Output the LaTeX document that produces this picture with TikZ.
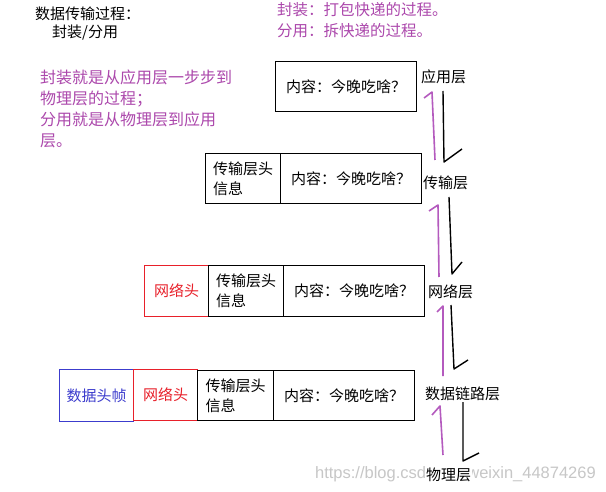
\documentclass[tikz,border=0pt]{standalone}
\usepackage{fontspec}
\setmainfont{Noto Sans CJK SC}
\newfontfamily\wmfont{Liberation Sans}
\definecolor{mypurple}{RGB}{172,72,172}
\definecolor{myline}{RGB}{180,90,190}
\definecolor{myred}{RGB}{232,32,42}
\definecolor{myblue}{RGB}{60,60,205}
\begin{document}
\begin{tikzpicture}[x=1pt,y=-1pt,
  font=\fontsize{15}{20}\selectfont,
  box/.style={draw, line width=1.3pt, inner sep=0pt, anchor=north west, align=left},
  redbox/.style={box, draw=myred, text=myred},
  bluebox/.style={box, draw=myblue, text=myblue},
  layer/.style={anchor=west, inner sep=0pt},
  ptext/.style={anchor=west, inner sep=0pt, text=mypurple, font=\fontsize{15.5}{20}\selectfont},
  upline/.style={draw=myline, line width=1.6pt, line join=round},
  downline/.style={draw=black, line width=1.4pt, line join=round}]
\useasboundingbox (0,0) rectangle (606,492);
\fill[white] (0,0) rectangle (606,492);

% titles
\node[layer] (t1) at (35,14) {数据传输过程：};
\node[layer] (t2) at (52,33) {封装/分用};
\node[ptext] (r1) at (277,10) {封装：打包快递的过程。};
\node[ptext] (r2) at (277,31) {分用：拆快递的过程。};
\node[anchor=north west, inner sep=0pt, align=left, text=mypurple,
      font=\fontsize{16}{21}\selectfont] (para) at (40,70)
  {封装就是从应用层一步步到\\物理层的过程；\\分用就是从物理层到应用\\层。};

% layer 1
\node[box, minimum width=141pt, minimum height=50pt] (c1) at (275,61) {内容：今晚吃啥？};
% layer 2
\node[box, minimum width=75pt, minimum height=50pt] (h2) at (205,153) {传输层头\\信息};
\node[box, minimum width=141pt, minimum height=50pt] (c2) at (280,153) {内容：今晚吃啥？};
% layer 3
\node[redbox, minimum width=64pt, minimum height=51pt] (n3) at (144,265) {网络头};
\node[box, minimum width=75pt, minimum height=51pt] (h3) at (208,265) {传输层头\\信息};
\node[box, minimum width=141pt, minimum height=51pt] (c3) at (283,265) {内容：今晚吃啥？};
% layer 4
\node[bluebox, minimum width=74pt, minimum height=52pt] (d4) at (59,369) {数据头帧};
\node[redbox, minimum width=64pt, minimum height=51pt] (n4) at (133,369) {网络头};
\node[box, minimum width=76pt, minimum height=50pt] (h4) at (197,370) {传输层头\\信息};
\node[box, minimum width=141pt, minimum height=50pt] (c4) at (273,370) {内容：今晚吃啥？};

% watermark
\node[anchor=east, inner sep=0pt, text=black!22, font=\wmfont\fontsize{16.5}{20}\selectfont] (wm) at (596,474) {https://blog.csdn.net/weixin\_44874269};

% layer labels
\node[layer] (L1) at (421,77) {应用层};
\node[layer] (L2) at (423,183) {传输层};
\node[layer] (L3) at (428,292) {网络层};
\node[layer] (L4) at (425,394) {数据链路层};
\node[layer, fill=white, inner xsep=1pt, inner ysep=2pt] (L5) at (425,475) {物理层};

% arrows (hand drawn half heads)
\coordinate (p1a) at (424,98); \coordinate (p1b) at (432,92); \coordinate (p1c) at (435,160);
\coordinate (b1a) at (443,91); \coordinate (b1b) at (444,162); \coordinate (b1c) at (462,149);
\coordinate (p2a) at (429,211); \coordinate (p2b) at (438,205); \coordinate (p2c) at (439,277);
\coordinate (b2a) at (449,197); \coordinate (b2b) at (452,274); \coordinate (b2c) at (462,262);
\coordinate (p3a) at (437,312); \coordinate (p3b) at (443,306); \coordinate (p3c) at (443,376);
\coordinate (b3a) at (451,305); \coordinate (b3b) at (454,369); \coordinate (b3c) at (468,360);
\coordinate (p4a) at (432,415); \coordinate (p4b) at (440,406); \coordinate (p4c) at (443,455);
\coordinate (b4a) at (463,402); \coordinate (b4b) at (463,461); \coordinate (b4c) at (479,453);

\draw[upline] (p1a) -- (p1b) -- (p1c);
\draw[downline] (b1a) -- (b1b) -- (b1c);
\draw[upline] (p2a) -- (p2b) -- (p2c);
\draw[downline] (b2a) -- (b2b) -- (b2c);
\draw[upline] (p3a) -- (p3b) -- (p3c);
\draw[downline] (b3a) -- (b3b) -- (b3c);
\draw[upline] (p4a) -- (p4b) -- (p4c);
\draw[downline] (b4a) -- (b4b) -- (b4c);
\end{tikzpicture}
\end{document}
